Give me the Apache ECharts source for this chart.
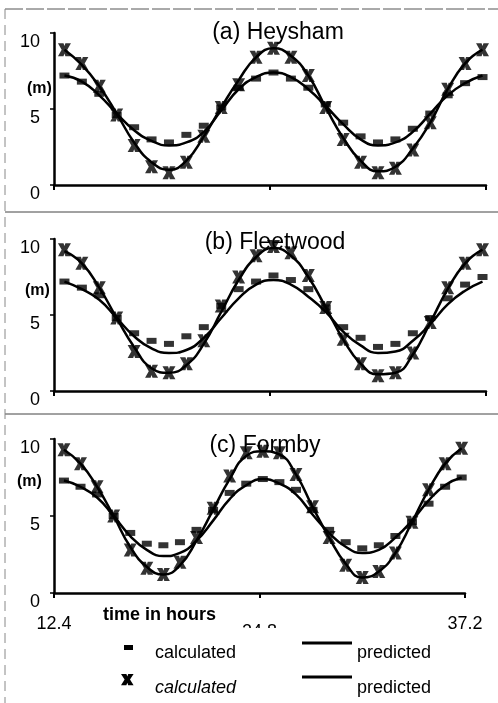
<!DOCTYPE html>
<html>
<head>
<meta charset="utf-8">
<script src="https://cdn.jsdelivr.net/npm/echarts@6/dist/echarts.min.js"></script>
<style>
html, body { margin: 0; padding: 0; background: #fff; }
#chart { width: 498px; height: 703px; }
</style>
</head>
<body>
<div id="chart"></div>
<script>
// hourly samples, 13..37 h
var hours = [13, 14, 15, 16, 17, 18, 19, 20, 21, 22, 23, 24, 25, 26, 27, 28, 29, 30, 31, 32, 33, 34, 35, 36, 37]
var xTicks = [12.4, 24.8, 37.2]
var yTicks = [0, 5, 10]

// (a) Heysham
var heyshamCalcDash = [7.2, 6.8, 6.0, 4.6, 3.8, 3.0, 2.8, 3.3, 3.9, 5.1, 6.4, 7.0, 7.4, 7.0, 6.4, 5.3, 4.1, 3.2, 2.8, 3.0, 3.7, 4.7, 5.9, 6.7, 7.1]
var heyshamCalcCross = [8.9, 8.0, 6.5, 4.6, 2.6, 1.2, 0.8, 1.5, 3.2, 5.1, 6.6, 8.4, 9.0, 8.4, 7.2, 5.1, 3.0, 1.5, 0.8, 1.1, 2.3, 4.1, 6.3, 8.0, 8.9]
var heyshamPredLow = [7.2, 6.8, 5.9, 4.7, 3.6, 2.9, 2.6, 2.8, 3.5, 4.9, 6.3, 7.1, 7.4, 7.1, 6.3, 5.2, 4.0, 3.0, 2.6, 2.8, 3.5, 4.7, 5.9, 6.7, 7.2]
var heyshamPredHigh = [8.9, 7.9, 6.5, 4.7, 2.8, 1.5, 1.0, 1.6, 3.2, 5.1, 6.9, 8.4, 9.0, 8.5, 7.2, 5.1, 3.1, 1.6, 0.9, 1.2, 2.4, 4.1, 6.3, 8.0, 8.9]

// (b) Fleetwood
var fleetwoodCalcDash = [7.2, 6.8, 6.3, 4.8, 3.8, 3.3, 3.1, 3.6, 4.2, 5.6, 6.7, 7.2, 7.6, 7.3, 6.7, 5.5, 4.2, 3.5, 2.9, 3.1, 3.8, 4.8, 6.1, 7.0, 7.5]
var fleetwoodCalcCross = [9.3, 8.4, 6.8, 4.8, 2.6, 1.3, 1.2, 1.8, 3.3, 5.6, 7.5, 8.9, 9.5, 9.1, 7.6, 5.5, 3.4, 1.8, 1.0, 1.2, 2.5, 4.5, 6.8, 8.4, 9.3]
var fleetwoodPredLow = [7.2, 6.7, 6.0, 4.8, 3.6, 2.8, 2.5, 2.7, 3.5, 4.8, 6.1, 7.0, 7.3, 7.0, 6.2, 5.2, 3.9, 3.0, 2.5, 2.6, 3.3, 4.4, 5.7, 6.6, 7.2]
var fleetwoodPredHigh = [9.2, 8.4, 6.8, 4.8, 2.9, 1.5, 1.2, 1.7, 3.1, 5.2, 7.3, 8.8, 9.4, 8.9, 7.5, 5.5, 3.4, 1.8, 1.1, 1.2, 2.4, 4.5, 6.7, 8.4, 9.3]

// (c) Formby
var formbyCalcDash = [7.3, 6.9, 6.4, 5.0, 3.9, 3.2, 3.1, 3.3, 4.1, 5.4, 6.5, 7.1, 7.4, 7.2, 6.7, 5.4, 4.1, 3.3, 2.9, 3.1, 3.7, 4.6, 5.8, 6.9, 7.5]
var formbyCalcCross = [9.3, 8.4, 6.9, 5.0, 2.8, 1.6, 1.2, 2.0, 3.6, 5.5, 7.6, 9.1, 9.2, 9.1, 7.7, 5.6, 3.6, 1.8, 1.0, 1.4, 2.6, 4.6, 6.7, 8.4, 9.4]
var formbyPredLow = [7.3, 6.9, 6.2, 5.0, 3.7, 2.8, 2.4, 2.6, 3.4, 4.7, 6.1, 7.0, 7.4, 7.1, 6.4, 5.1, 3.9, 3.0, 2.6, 2.8, 3.6, 4.7, 6.0, 7.0, 7.5]
var formbyPredHigh = [9.3, 8.4, 6.9, 5.0, 3.0, 1.7, 1.2, 1.8, 3.4, 5.4, 7.4, 8.9, 9.2, 9.0, 7.7, 5.6, 3.6, 1.9, 1.0, 1.4, 2.6, 4.6, 6.7, 8.4, 9.4]

var panelTitles = ['(a) Heysham', '(b) Fleetwood', '(c) Formby']

var FONT = '"Liberation Sans", Arial, sans-serif'
var crossPath = 'path://M0,0H6L7,3L8,0H14L10,7L14,14H8L7,11L6,14H0L4,7Z'

var panels = [
  { dash: heyshamCalcDash, cross: heyshamCalcCross, low: heyshamPredLow, high: heyshamPredHigh },
  { dash: fleetwoodCalcDash, cross: fleetwoodCalcCross, low: fleetwoodPredLow, high: fleetwoodPredHigh },
  { dash: formbyCalcDash, cross: formbyCalcCross, low: formbyPredLow, high: formbyPredHigh }
]

var grids = [
  { left: 54, top: 33, width: 432, height: 152 },
  { left: 54, top: 239, width: 432, height: 152 },
  { left: 54, top: 439, width: 411, height: 154 }
]

function pairs(vals) {
  return hours.map(function(h, i) { return [h, vals[i]] })
}

var xAxes = []
var yAxes = []
var series = []
grids.forEach(function(g, i) {
  xAxes.push({
    gridIndex: i,
    type: 'value',
    min: xTicks[0],
    max: xTicks[2],
    interval: xTicks[1] - xTicks[0],
    axisLine: { lineStyle: { color: '#000', width: 2.5 } },
    axisTick: { show: true, length: 5, lineStyle: { color: '#000', width: 2 } },
    splitLine: { show: false },
    axisLabel: {
      show: i === 2,
      color: '#000',
      fontSize: 18,
      fontFamily: FONT,
      margin: 22,
      formatter: function(v) {
        var s = v.toFixed(1)
        return s === '24.8' ? '{low|' + s + '}' : s
      },
      rich: { low: { fontSize: 18, fontFamily: FONT, color: '#000', padding: [8, 0, 0, 0] } }
    }
  })
  yAxes.push({
    gridIndex: i,
    type: 'value',
    min: yTicks[0],
    max: yTicks[2],
    interval: yTicks[1],
    axisLine: { show: true, lineStyle: { color: '#000', width: 2.5 } },
    axisTick: { show: true, length: 4, lineStyle: { color: '#000', width: 1.5 } },
    splitLine: { show: false },
    axisLabel: { color: '#000', fontSize: 18, fontFamily: FONT, margin: 14, verticalAlign: 'top' }
  })

  var p = panels[i]
  series.push({
    type: 'line', name: 'predicted', xAxisIndex: i, yAxisIndex: i,
    data: pairs(p.low), smooth: 0.5, symbol: 'none',
    lineStyle: { color: '#000', width: 2.5 }, z: 2
  })
  series.push({
    type: 'line', name: 'predicted', xAxisIndex: i, yAxisIndex: i,
    data: pairs(p.high), smooth: 0.5, symbol: 'none',
    lineStyle: { color: '#000', width: 2.5 }, z: 2
  })
  series.push({
    type: 'scatter', name: 'calculated', xAxisIndex: i, yAxisIndex: i,
    data: pairs(p.dash), symbol: 'rect', symbolSize: [10, 6],
    itemStyle: { color: '#000' }, z: 3
  })
  series.push({
    type: 'scatter', name: 'calculated', xAxisIndex: i, yAxisIndex: i,
    data: pairs(p.cross), symbol: crossPath, symbolSize: 13,
    itemStyle: { color: '#000' }, z: 4
  })
})

function txt(s, x, y, font, align, z) {
  return {
    type: 'text', z: z || 10,
    style: { text: s, x: x, y: y, font: font, fill: '#000', textAlign: align || 'left', textVerticalAlign: 'middle', align: align || 'left', verticalAlign: 'middle' }
  }
}
function hline(x1, x2, y, color, w, dash) {
  var st = { stroke: color, lineWidth: w }
  if (dash) st.lineDash = dash
  return { type: 'line', z: 1, shape: { x1: x1, y1: y, x2: x2, y2: y }, style: st }
}

// legend cross icon
var crossPts = [[0, 0], [6, 0], [7, 3], [8, 0], [14, 0], [10, 7], [14, 14], [8, 14], [7, 11], [6, 14], [0, 14], [4, 7]].map(function(q) {
  return [q[0] * 0.9 + 121, q[1] * 0.8 + 674]
})

var graphics = [
  // frame
  hline(5, 498, 9, '#555', 1, [18, 3]),
  hline(5, 498, 212, '#444', 1),
  hline(5, 498, 414, '#444', 1),
  { type: 'line', z: 1, shape: { x1: 5, y1: 9, x2: 5, y2: 703 }, style: { stroke: '#888', lineWidth: 1, lineDash: [10, 6] } },
  // titles
  txt(panelTitles[0], 278, 33, '23px ' + FONT, 'center', 1),
  txt(panelTitles[1], 275, 243, '23px ' + FONT, 'center', 1),
  txt(panelTitles[2], 265, 446, '23px ' + FONT, 'center', 1),
  // unit labels
  txt('(m)', 27, 89, 'bold 16px ' + FONT),
  txt('(m)', 25, 291, 'bold 16px ' + FONT),
  txt('(m)', 17, 482, 'bold 16px ' + FONT),
  txt('time in hours', 103, 615, 'bold 18px ' + FONT),
  // clip lower half of the 24.8 label
  { type: 'rect', z: 20, shape: { x: 232, y: 628, width: 48, height: 12 }, style: { fill: '#fff' } },
  // legend
  { type: 'rect', z: 10, shape: { x: 124, y: 645, width: 9, height: 5 }, style: { fill: '#000' } },
  txt('calculated', 155, 653, '18px ' + FONT),
  hline(302, 352, 643, '#000', 3),
  txt('predicted', 357, 653, '18px ' + FONT),
  { type: 'polygon', z: 10, shape: { points: crossPts }, style: { fill: '#000' } },
  txt('calculated', 155, 688, 'italic 18px ' + FONT),
  hline(302, 352, 677, '#000', 3),
  txt('predicted', 357, 688, '18px ' + FONT)
]

var chart = echarts.init(document.getElementById('chart'))
chart.setOption({
  animation: false,
  backgroundColor: '#fff',
  grid: grids,
  xAxis: xAxes,
  yAxis: yAxes,
  series: series,
  graphic: graphics
})
</script>
</body>
</html>
